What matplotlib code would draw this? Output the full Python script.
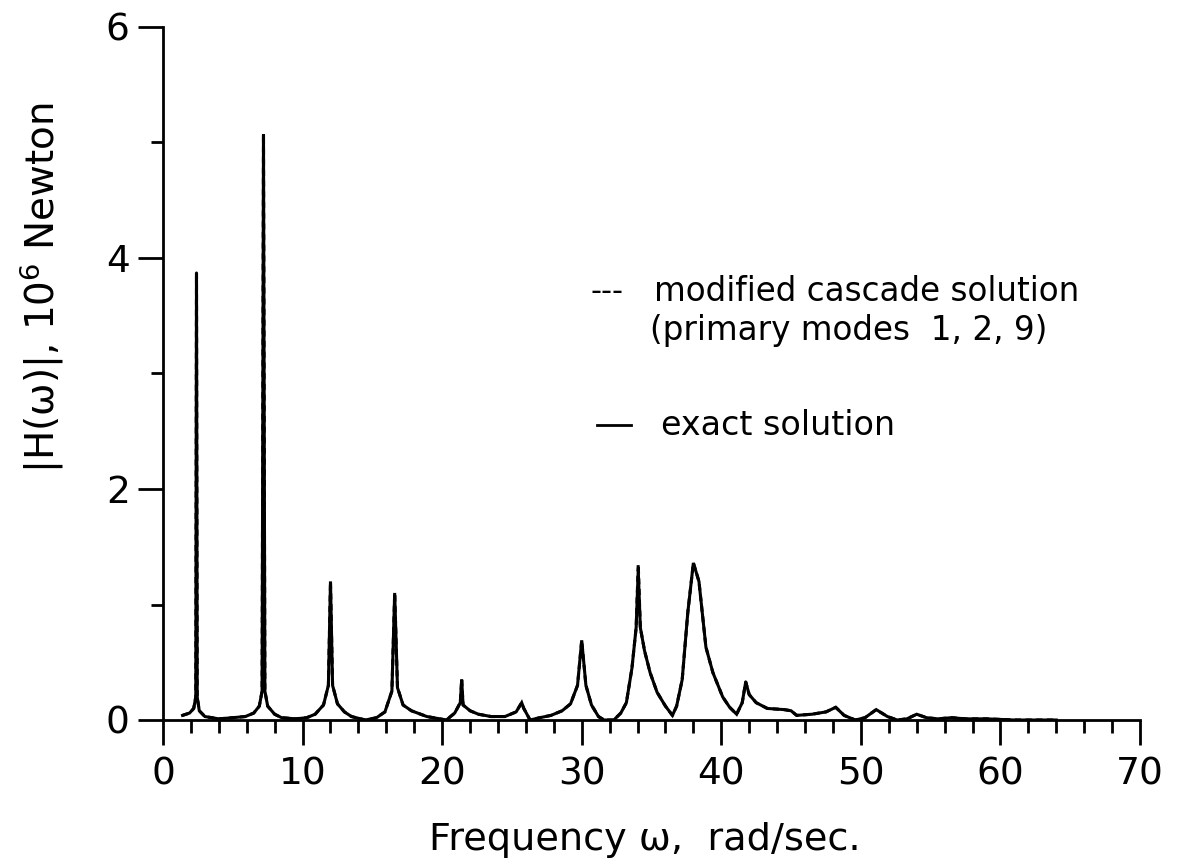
import matplotlib
matplotlib.use("Agg")
import matplotlib.pyplot as plt
from matplotlib.ticker import MultipleLocator

plt.rcParams['font.family'] = ['DejaVu Sans']

# ---- data ----
omega = [1.4, 1.9, 2.2, 2.35, 2.4, 2.45, 2.6, 3.0, 4.0, 5.0, 5.9, 6.5, 6.9, 7.1, 7.2, 7.3,
         7.5, 8.0, 8.5, 9.5, 10.3, 10.9, 11.5, 11.85, 12.0, 12.15, 12.5, 13.0, 13.5, 14.5,
         15.3, 15.9, 16.4, 16.6, 16.8, 17.2, 17.8, 18.9, 20.3, 20.9, 21.3, 21.4, 21.5, 22.0,
         22.6, 23.5, 24.5, 25.3, 25.7, 25.85, 26.3, 27.0, 27.8, 28.6, 29.2, 29.7, 30.0, 30.3,
         30.7, 31.2, 31.6, 32.3, 32.8, 33.2, 33.6, 33.9, 34.05, 34.2, 34.5, 34.9, 35.4, 36.0,
         36.5, 36.8, 37.2, 37.6, 38.0, 38.4, 38.9, 39.4, 40.1, 40.6, 41.1, 41.5, 41.75, 42.0,
         42.5, 43.3, 44.5, 45.0, 45.4, 46.5, 47.5, 48.2, 48.8, 49.6, 50.3, 51.1, 51.9, 52.6,
         53.3, 54.0, 54.7, 55.5, 56.5, 57.5, 59.0, 61.0, 64.0]

exact = [0.04, 0.06, 0.10, 0.20, 3.87, 0.20, 0.08, 0.03, 0.01, 0.02, 0.03, 0.06, 0.12, 0.25, 5.07, 0.25,
         0.12, 0.05, 0.02, 0.01, 0.02, 0.05, 0.13, 0.30, 1.20, 0.30, 0.14, 0.07, 0.03, 0.00,
         0.02, 0.07, 0.25, 1.10, 0.28, 0.13, 0.08, 0.03, 0.00, 0.06, 0.15, 0.35, 0.13, 0.08,
         0.05, 0.03, 0.03, 0.07, 0.15, 0.10, 0.00, 0.02, 0.04, 0.08, 0.14, 0.30, 0.69, 0.30,
         0.13, 0.03, 0.00, 0.00, 0.06, 0.15, 0.45, 0.80, 1.30, 0.80, 0.60, 0.41, 0.24, 0.12,
         0.04, 0.12, 0.35, 0.93, 1.36, 1.20, 0.63, 0.41, 0.20, 0.11, 0.05, 0.15, 0.33, 0.22,
         0.15, 0.10, 0.09, 0.08, 0.04, 0.05, 0.07, 0.11, 0.04, 0.00, 0.02, 0.09, 0.03, 0.00,
         0.01, 0.05, 0.02, 0.01, 0.02, 0.01, 0.01, 0.00, 0.00]

cascade = [0.04, 0.06, 0.10, 0.20, 3.87, 0.20, 0.08, 0.03, 0.01, 0.02, 0.03, 0.06, 0.12, 0.25, 5.07, 0.25,
           0.12, 0.05, 0.02, 0.01, 0.02, 0.05, 0.13, 0.30, 1.20, 0.30, 0.14, 0.07, 0.03, 0.00,
           0.02, 0.07, 0.25, 1.10, 0.28, 0.13, 0.08, 0.03, 0.00, 0.06, 0.15, 0.35, 0.13, 0.08,
           0.05, 0.03, 0.03, 0.07, 0.15, 0.10, 0.00, 0.02, 0.04, 0.08, 0.14, 0.30, 0.69, 0.30,
           0.13, 0.03, 0.00, 0.00, 0.06, 0.15, 0.45, 0.80, 1.35, 0.80, 0.60, 0.41, 0.24, 0.12,
           0.04, 0.12, 0.35, 0.93, 1.36, 1.20, 0.63, 0.41, 0.20, 0.11, 0.05, 0.15, 0.33, 0.22,
           0.15, 0.10, 0.09, 0.08, 0.04, 0.05, 0.07, 0.11, 0.04, 0.00, 0.02, 0.09, 0.03, 0.00,
           0.01, 0.05, 0.02, 0.01, 0.02, 0.01, 0.01, 0.00, 0.00]

x_ticks = [0, 10, 20, 30, 40, 50, 60, 70]
y_ticks = [0, 2, 4, 6]

fig = plt.figure(figsize=(11.85, 8.67), dpi=100)
ax = fig.add_axes([163/1185, 1 - 720/867, (1140 - 163)/1185, (720 - 27)/867])

ax.plot(omega, exact, color='black', lw=2.2, solid_joinstyle='miter')
ax.plot(omega, cascade, color='black', lw=2.2, ls=(0, (2, 1.5)))

ax.set_xlim(0, 70)
ax.set_ylim(0, 6)
ax.set_xticks(x_ticks)
ax.set_yticks(y_ticks)
ax.xaxis.set_minor_locator(MultipleLocator(2))
ax.yaxis.set_minor_locator(MultipleLocator(1))
ax.set_xticklabels([str(v) for v in x_ticks])
ax.set_yticklabels([str(v) for v in y_ticks])

for s in ['top', 'right']:
    ax.spines[s].set_visible(False)
for s in ['left', 'bottom']:
    ax.spines[s].set_linewidth(2.0)
ax.spines['left'].set_bounds(0, 6)

ax.tick_params(axis='both', which='major', direction='out', width=2.0, length=18,
               labelsize=27, pad=6)
ax.tick_params(axis='both', which='minor', direction='out', width=2.0, length=9)
ax.tick_params(axis='x', which='major', pad=8)

fig.text(645/1185, 1 - 840/867, 'Frequency \u03c9,  rad/sec.', fontsize=27.5,
         ha='center', va='center')
fig.text(42/1185, 1 - 288/867, '|H(\u03c9)|, 10$^6$ Newton', fontsize=28,
         ha='center', va='center', rotation=90)

# legend as annotation text
ax.text(30.6, 3.71, '---', fontsize=22, ha='left', va='center')
ax.text(35.2, 3.71, 'modified cascade solution', fontsize=23.5, ha='left', va='center')
ax.text(34.9, 3.37, '(primary modes  1, 2, 9)', fontsize=23.5, ha='left', va='center')
ax.plot([31.1, 33.5], [2.55, 2.55], color='black', lw=2.0)
ax.text(35.7, 2.55, 'exact solution', fontsize=24, ha='left', va='center')

fig.savefig('out.png', dpi=100)
